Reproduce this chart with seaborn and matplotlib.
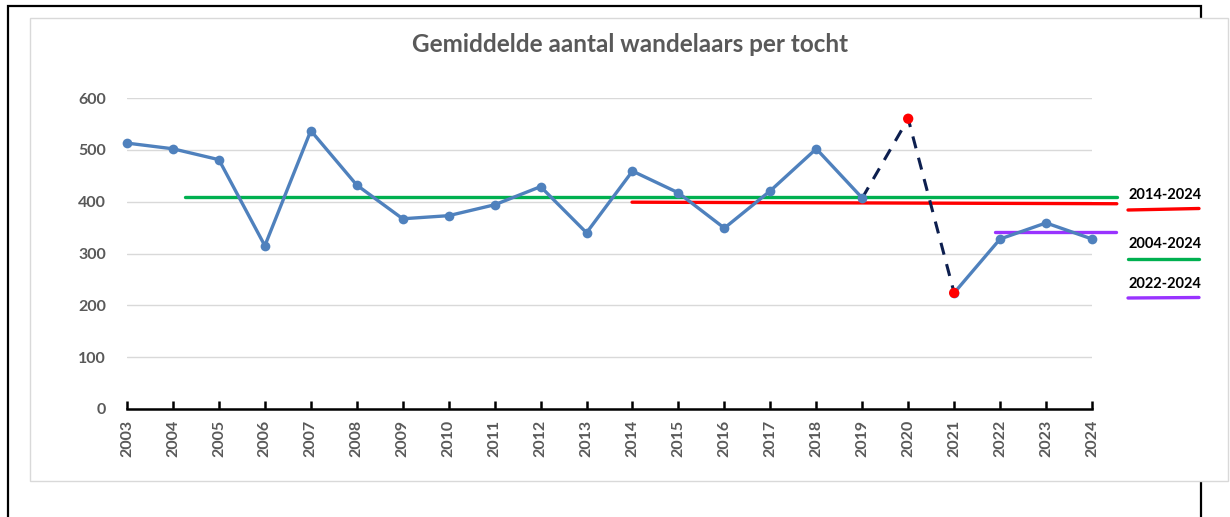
import matplotlib
matplotlib.use("Agg")
import matplotlib.pyplot as plt
import seaborn as sns
import pandas as pd
from matplotlib.patches import Rectangle
from matplotlib.lines import Line2D

# ---- data ----
years = list(range(2003, 2025))
walkers = [513, 502, 481, 315, 537, 432, 367, 373, 394, 429, 340,
           459, 417, 349, 421, 502, 407, 560, 224, 328, 359, 328]
outlier_years = [2020, 2021]
avg_2004_2024 = [409, 409]
avg_2014_2024 = [399, 396]
avg_2022_2024 = [341, 341]
title = "Gemiddelde aantal wandelaars per tocht"
y_ticks = [0, 100, 200, 300, 400, 500, 600]
label_texts = ["2014-2024", "2004-2024", "2022-2024"]

df = pd.DataFrame({"year": years, "walkers": walkers})

sns.set_style("white")
plt.rcParams["font.family"] = ["Lato", "DejaVu Sans"]

W, H = 1230, 517
fig = plt.figure(figsize=(W / 100, H / 100), dpi=100)

def fx(px):
    return px / W

def fy(py):
    return 1 - py / H

# outer black frame and inner white panel
fig.patches.append(Rectangle((fx(8), fy(530)), fx(1201) - fx(8), fy(6) - fy(530),
                             transform=fig.transFigure, fill=False,
                             edgecolor="black", linewidth=1.6, zorder=0))
fig.patches.append(Rectangle((fx(30), fy(481)), fx(1228) - fx(30), fy(18) - fy(481),
                             transform=fig.transFigure, facecolor="white",
                             edgecolor="#d9d9d9", linewidth=1.0, zorder=1))

ax = fig.add_axes([fx(127), fy(409), fx(1092) - fx(127), fy(98) - fy(409)])
ax.set_zorder(2)
ax.patch.set_alpha(0)

blue = "#4f81bd"
solid_a = df[df.year <= 2019]
solid_b = df[df.year >= 2021]
dash = df[(df.year >= 2019) & (df.year <= 2021)]

sns.lineplot(data=solid_a, x="year", y="walkers", ax=ax, color=blue, lw=2.4,
             marker="o", markersize=7, markeredgewidth=0, zorder=5, clip_on=False)
sns.lineplot(data=solid_b, x="year", y="walkers", ax=ax, color=blue, lw=2.4,
             marker="o", markersize=7, markeredgewidth=0, zorder=5, clip_on=False)
sns.lineplot(data=dash, x="year", y="walkers", ax=ax, color="#0d1f4f", lw=2.2,
             linestyle=(0, (4, 3.2)), zorder=4)
out = df[df.year.isin(outlier_years)]
sns.scatterplot(data=out, x="year", y="walkers", ax=ax, color="#ff0000", s=55,
                edgecolor="none", zorder=6)

# average lines
ax.plot([2004.26, 2024.54], avg_2004_2024, color="#00b050", lw=2.4, clip_on=False, zorder=3)
ax.plot([2013.99, 2024.54], avg_2014_2024, color="#ff0000", lw=2.4, clip_on=False, zorder=3)
ax.plot([2021.89, 2024.52], avg_2022_2024, color="#9933ff", lw=2.4, clip_on=False, zorder=3)

ax.set_xlim(2003, 2024)
ax.set_ylim(0, 600)
ax.set_yticks(y_ticks)
ax.set_xticks(years)
ax.set_xticklabels([str(y) for y in years], rotation=90)
ax.grid(axis="y", color="#d9d9d9", lw=1.0)
ax.set_axisbelow(True)
for s in ["top", "right", "left"]:
    ax.spines[s].set_visible(False)
ax.spines["bottom"].set_color("black")
ax.spines["bottom"].set_linewidth(1.8)
ax.spines["bottom"].set_zorder(7)
ax.tick_params(axis="x", bottom=True, direction="in", length=6, width=1.8, color="black",
               labelsize=11.5, labelcolor="#595959", pad=8)
ax.tick_params(axis="y", left=False, length=0, labelsize=11.5, labelcolor="#595959", pad=15)
for lab in ax.get_xticklabels() + ax.get_yticklabels():
    lab.set_fontweight("bold")
ax.set_xlabel("")
ax.set_ylabel("")
legend = ax.get_legend()
if legend:
    legend.remove()

fig.text(fx(630), fy(45), title, ha="center", va="center", fontsize=17.5,
         fontweight="bold", color="#595959", zorder=3)

# right-side labels
label_y = [195, 244, 284]
line_y = [(210, 208.5), (259, 259), (298, 297.5)]
line_col = ["#ff0000", "#00b050", "#9933ff"]
for t, ty, (y0, y1), c in zip(label_texts, label_y, line_y, line_col):
    fig.text(fx(1165), fy(ty), t, ha="center", va="center", fontsize=10.5,
             fontweight="bold", color="black", zorder=3)
    fig.lines.append(Line2D([fx(1128), fx(1199)], [fy(y0), fy(y1)],
                            transform=fig.transFigure, color=c, lw=2.4, zorder=3))

fig.savefig("out.png", dpi=100)
